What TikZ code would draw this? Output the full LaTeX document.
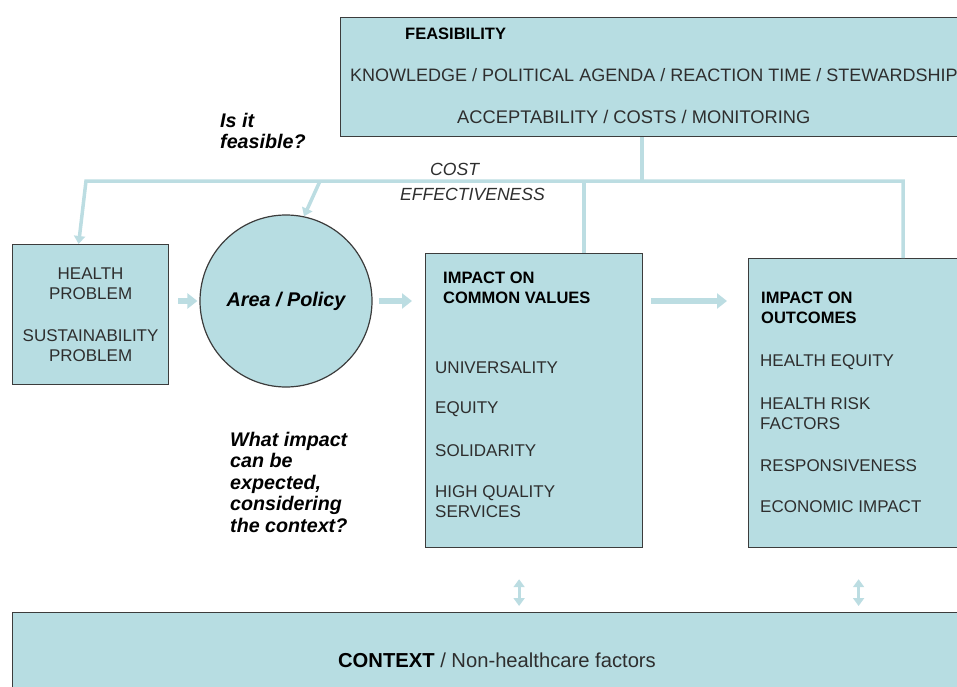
\documentclass[tikz,border=0pt]{standalone}
\usepackage{fontspec}
\setmainfont{Liberation Sans}
\usetikzlibrary{arrows.meta}

\definecolor{boxfill}{HTML}{B7DDE2}
\definecolor{linkblue}{HTML}{BCDDE2}
\definecolor{edgegray}{HTML}{3C3C3C}
\definecolor{txtgray}{HTML}{2E2E2E}

\tikzset{
  panel/.style={draw=edgegray, line width=1.2pt, fill=boxfill, anchor=north west, inner sep=0pt},
  item/.style={anchor=west, inner sep=0pt, text=txtgray, font=\fontsize{17}{20}\selectfont, align=left},
  heading/.style={anchor=west, inner sep=0pt, font=\bfseries\fontsize{16.5}{20}\selectfont, align=left},
  question/.style={anchor=west, inner sep=0pt, font=\bfseries\itshape\fontsize{19.7}{21.5}\selectfont, align=left},
  feed/.style={draw=linkblue, line width=3.5pt},
  feedarrow/.style={feed, -{Triangle[width=11pt,length=8pt]}},
  flow/.style={draw=linkblue, line width=6pt, -{Triangle[width=15pt,length=10pt]}},
  dflow/.style={draw=linkblue, line width=3pt, {Triangle[width=11pt,length=8pt]}-{Triangle[width=11pt,length=8pt]}}
}

\begin{document}
\begin{tikzpicture}[x=1pt, y=-1pt]
\useasboundingbox (0,0) rectangle (957,687);
\clip (0,0) rectangle (957,687);

% boxes
\node[panel, minimum width=640pt, minimum height=119pt] (feas) at (340,17) {};
\node[panel, minimum width=156pt, minimum height=140pt] (health) at (12,244) {};
\node[panel, circle, anchor=center, minimum size=172pt,
      font=\bfseries\itshape\fontsize{19.8}{21.5}\selectfont] (policy) at (286,301) {Area / Policy};
\node[panel, minimum width=217pt, minimum height=294pt] (values) at (425,253) {};
\node[panel, minimum width=230pt, minimum height=289pt] (outcomes) at (748,258) {};
\node[panel, minimum width=970pt, minimum height=90pt] (context) at (12,612) {};

% feasibility
\node[heading] (feastitle) at (405,34) {FEASIBILITY};
\node[item, font=\fontsize{18}{20}\selectfont] (feasline1) at (350,75) {KNOWLEDGE / POLITICAL AGENDA / REACTION TIME / STEWARDSHIP};
\node[item, font=\fontsize{18.3}{20}\selectfont] (feasline2) at (457,117) {ACCEPTABILITY / COSTS / MONITORING};

% problem
\node[item, anchor=center, align=center] (healthtxt) at (health.center)
  {HEALTH\\PROBLEM\\[22pt]SUSTAINABILITY\\PROBLEM};

% questions
\node[question] (feasq) at (220,131) {Is it\\feasible?};
\node[question] (impactq) at (230,482) {What impact\\can be\\expected,\\considering\\the context?};
\node[item, font=\itshape\fontsize{17.6}{25}\selectfont] (costeff) at (400,182)
  {\hspace*{30pt}COST\\EFFECTIVENESS};

% common values
\node[heading] (valtitle) at (443,288) {IMPACT ON\\COMMON VALUES};
\node[item] (val1) at (435,368) {UNIVERSALITY};
\node[item] (val2) at (435,409) {EQUITY};
\node[item] (val3) at (435,451) {SOLIDARITY};
\node[item] (val4) at (435,502) {HIGH QUALITY\\SERVICES};

% outcomes
\node[heading] (outtitle) at (761,308) {IMPACT ON\\OUTCOMES};
\node[item] (out1) at (760,362) {HEALTH EQUITY};
\node[item] (out2) at (760,414) {HEALTH RISK\\FACTORS};
\node[item] (out3) at (760,466) {RESPONSIVENESS};
\node[item] (out4) at (760,507) {ECONOMIC IMPACT};

% context
\node[anchor=center, inner sep=0pt, text=txtgray, font=\fontsize{20.2}{22}\selectfont] (contexttxt) at (497,660)
  {\textbf{\color{black}CONTEXT} / Non-healthcare factors};

% feasibility links
\coordinate (hub) at (642,181);
\coordinate (left) at (86,181);
\coordinate (right) at (903,181);
\coordinate (mid) at (320,181);
\coordinate (vdrop) at (584,181);

\draw[feed] (feas.south -| hub) -- (hub);
\draw[feedarrow] (right |- outcomes.north) -- (right) -- (left) -- ([xshift=-12pt]health.north);
\draw[feedarrow] (mid) -- (policy.78);
\draw[feed] (vdrop) -- (vdrop |- values.north);

% main flow
\draw[flow, shorten <=9pt, shorten >=2pt] (health.east |- policy) -- (policy.west);
\draw[flow, shorten <=6pt, shorten >=13pt] (policy.east) -- (values.west |- policy);
\draw[flow, shorten <=8pt, shorten >=21pt] (values.east |- policy) -- (outcomes.west |- policy);

% context links
\draw[dflow, shorten <=31pt, shorten >=6pt] ([xshift=-15pt]values.south) -- ([xshift=-15pt]values.south |- context.north);
\draw[dflow, shorten <=31pt, shorten >=6pt] ([xshift=-5pt]outcomes.south) -- ([xshift=-5pt]outcomes.south |- context.north);
\end{tikzpicture}
\end{document}
